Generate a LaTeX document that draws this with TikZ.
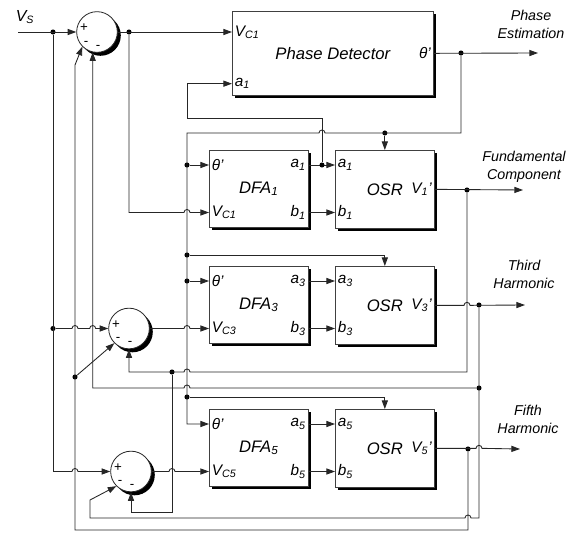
\documentclass[tikz,border=0pt]{standalone}
\usepackage{fontspec}
\setmainfont{Liberation Sans}
\usetikzlibrary{arrows.meta,positioning,shadows,calc}

\begin{document}
\begin{tikzpicture}[x=0.75pt,y=-0.75pt,
  line/.style={draw=black!85, line width=0.65pt},
  arrow/.style={line, -{Triangle[length=6.5pt,width=4.6pt]}},
  blk/.style={draw=black!75, fill=white, line width=0.5pt, anchor=north west,
              drop shadow={shadow xshift=2.2pt,shadow yshift=-2.2pt,opacity=1,fill=black}},
  dfa/.style={blk, minimum width=74.25pt, minimum height=57.75pt},
  osr/.style={blk, minimum width=74.25pt, minimum height=58.5pt},
  sum/.style={circle, draw=black!85, fill=white, line width=0.6pt, minimum size=30.5pt,
              inner sep=0pt,
              drop shadow={shadow xshift=2.6pt,shadow yshift=-2.6pt,opacity=1,fill=black}},
  title/.style={font=\fontsize{12.5}{14}\selectfont\itshape, inner sep=0pt},
  port/.style={font=\fontsize{11.5}{13}\selectfont\itshape, inner sep=2pt},
  side/.style={font=\fontsize{10.7}{13.5}\selectfont\itshape, align=center},
  sign/.style={font=\fontsize{10}{10}\selectfont, inner sep=0pt},
  dot/.style={circle, fill=black, inner sep=0pt, minimum size=3.8pt}]
\useasboundingbox[fill=white] (0,0) rectangle (585,532);
% line hops: #1 = point on the vertical line, #2 = point on the horizontal line
\def\hopr#1#2{-- ($(#1 |- #2)+(-3,0)$) arc[start angle=180,end angle=360,radius=3]}
\def\hopl#1#2{-- ($(#1 |- #2)+(3,0)$) arc[start angle=0,end angle=-180,radius=3]}
\def\signs#1{%
  \node[sign] (#1p) at ($(#1)+(-13,-4)$) {+};
  \node[sign] (#1m) at ($(#1)+(-11,11)$) {-};
  \node[sign] (#1n) at ($(#1)+(1,15)$) {-};}
% one harmonic row: DFA block and OSR block
\def\row#1#2{%
  \node[dfa] (dfa#1) at (209,#2) {};
  \node[osr] (osr#1) at (335,#2) {};
  \coordinate (in#1a) at ($(dfa#1.north west)+(0,15)$);
  \coordinate (in#1b) at ($(dfa#1.north west)+(0,62.5)$);
  \coordinate (out#1a) at (dfa#1.east |- in#1a);
  \coordinate (out#1b) at (dfa#1.east |- in#1b);
  \node[title] (dfat#1) at (dfa#1.center) {DFA\textsubscript{#1}};
  \node[title] (osrt#1) at (osr#1.center) {OSR};
  \node[port, anchor=west] (pth#1) at (in#1a) {θ'};
  \node[port, anchor=west] (pvc#1) at (in#1b) {V\textsubscript{C#1}};
  \node[port, anchor=east] (pa#1) at (out#1a) {a\textsubscript{#1}};
  \node[port, anchor=east] (pb#1) at (out#1b) {b\textsubscript{#1}};
  \node[port, anchor=west] (qa#1) at (osr#1.west |- in#1a) {a\textsubscript{#1}};
  \node[port, anchor=west] (qb#1) at (osr#1.west |- in#1b) {b\textsubscript{#1}};
  \node[port, anchor=east] (qv#1) at (osr#1.east) {V\textsubscript{#1}'};
  \draw[arrow] (out#1a) -- (osr#1.west |- in#1a);
  \draw[arrow] (out#1b) -- (osr#1.west |- in#1b);}

% summing junctions
\node[sum] (sum0) at (97,32) {};
\node[sum] (sum3) at (129,328.5) {};
\node[sum] (sum5) at (131,471.5) {};
\signs{sum0} \signs{sum3} \signs{sum5}

% phase detector
\node[blk, minimum width=150.75pt, minimum height=63pt] (pd) at (232,11) {};
\node[title] (pdt) at (pd.center) {Phase Detector};
\coordinate (pdv) at ($(pd.north west)+(0,21)$);
\coordinate (pda) at ($(pd.south west)+(0,-12)$);
\node[port, anchor=west] (pdvl) at (pdv) {V\textsubscript{C1}};
\node[port, anchor=west] (pdal) at (pda) {a\textsubscript{1}};
\node[port, anchor=east] (pdtl) at (pd.east) {θ'};

\row{1}{150}
\row{3}{266}
\row{5}{409}

% outputs
\node[side] (lphase) at (531,24) {Phase\\Estimation};
\node[side] (lfund) at (524,167) {Fundamental\\Component};
\node[side] (lthird) at (524,274) {Third\\Harmonic};
\node[side] (lfifth) at (528,419) {Fifth\\Harmonic};
\node[port, font=\fontsize{12}{13}\selectfont\itshape] (lvs) at (25,17) {V\textsubscript{S}};

% branch points
\coordinate (vs) at (18,32);
\node[dot] (dvs) at (53,32) {};
\node[dot] (dvs3) at (53,328.5) {};
\coordinate (cvs5) at (53,471.5);
\node[dot] (dout0) at (129,32) {};
\node[dot] (dth) at (461,53) {};
\coordinate (thout) at (538,53);
\coordinate (th1) at (461,133);
\coordinate (tb) at (187,133);
\node[dot] (dosr1) at (osr1.north |- th1) {};
\node[dot] (dt1) at (tb |- in1a) {};
\node[dot] (dosr3) at (187,255) {};
\node[dot] (dt3) at (tb |- in3a) {};
\node[dot] (dosr5) at (187,397) {};
\node[dot] (da1) at (322,165) {};
\coordinate (la) at (322,118);
\coordinate (lb) at (187,118);
\coordinate (lc) at (lb |- pda);
\node[dot] (dv1) at (467,190) {};
\coordinate (v1out) at (523,190);
\coordinate (v1a) at (467,372);
\node[dot] (dv1b) at (172,372) {};
\coordinate (v1c) at (sum3.south |- v1a);
\coordinate (v1d) at (172,512);
\coordinate (v1e) at (sum5.south |- v1d);
\node[dot] (dv3) at (479,305) {};
\coordinate (v3out) at (525,305);
\node[dot] (dv3b) at (479,388) {};
\coordinate (v3a) at (sum0.258 |- dv3b);
\coordinate (v3b) at (479,518);
\coordinate (v3c) at (90,518);
\coordinate (v3d) at (90,500);
\node[dot] (dv5) at (468,449) {};
\coordinate (v5out) at (520,449);
\coordinate (v5a) at (468,530);
\coordinate (v5b) at (75,530);
\node[dot] (dv5b) at (75,377) {};
\coordinate (v5c) at (75,65);

% input and first junction
\draw[arrow] (vs) -- (sum0.west);
\draw[line] (dvs) -- (cvs5);
\draw[arrow] (dvs3) \hopr{v5b}{dvs3} \hopr{v3a}{dvs3} -- (sum3.west);
\draw[arrow] (cvs5) \hopr{v5b}{cvs5} -- (sum5.west);
\draw[arrow] (sum0.east) -- (pdv);
\draw[arrow] (dout0) -- (dout0 |- in1b) \hopr{tb}{in1b} -- (in1b);
\draw[arrow] (sum3.east) \hopr{tb}{sum3.east} -- (in3b);
\draw[arrow] (sum5.east) \hopr{dv1b}{sum5.east} -- (in5b);

% phase estimate
\draw[arrow] (pd.east) -- (thout);
\draw[arrow] (dth) -- (th1) \hopl{la}{th1} -- (tb) |- (in5a);
\draw[arrow] (dosr1) -- (osr1.north);
\draw[arrow] (dt1) -- (in1a);
\draw[arrow] (dosr3) -| (osr3.north);
\draw[arrow] (dt3) -- (in3a);
\draw[arrow] (dosr5) -| (osr5.north);
\draw[arrow] (da1) -- (la) -- (lb) -- (lc) -- (pda);

% fundamental
\draw[arrow] (osr1.east) -- (v1out);
\draw[arrow] (dv1) -- (v1a) \hopl{tb}{v1a} -- (v1c) -- (sum3.south);
\draw[arrow] (dv1b) -- (v1d) -- (v1e) -- (sum5.south);

% third harmonic
\draw[arrow] (osr3.east) \hopr{dv1}{osr3.east} -- (v3out);
\draw[arrow] (dv3b) \hopl{tb}{dv3b} -- (v3a) -- (sum0.258);
\draw[arrow] (dv3) -- (v3b) \hopl{dv5}{v3b} -- (v3c) -- (v3d) -- (sum5.south west);

% fifth harmonic
\draw[arrow] (osr5.east) \hopr{dv3}{osr5.east} -- (v5out);
\draw[arrow] (dv5) -- (v5a) -- (v5b) -- (v5c) -- (sum0.south west);
\draw[arrow] (dv5b) -- (sum3.south west);
\end{tikzpicture}
\end{document}
